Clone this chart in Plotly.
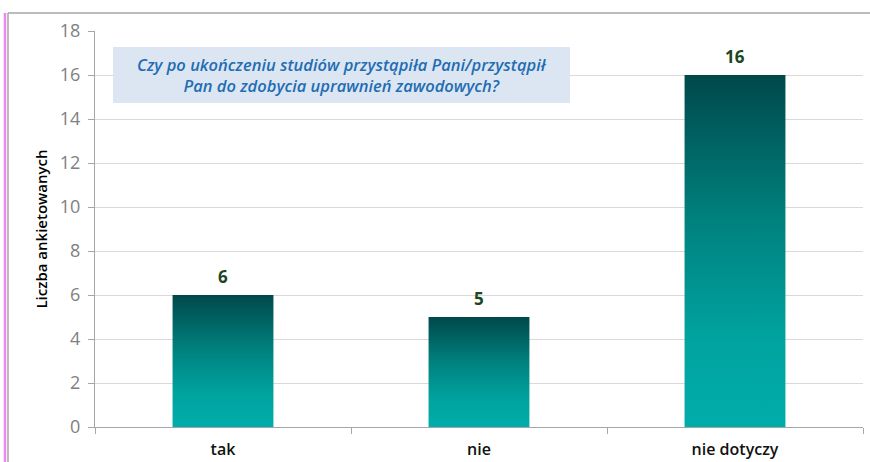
import plotly.graph_objects as go

categories = ["tak", "nie", "nie dotyczy"]
values = [6, 5, 16]
y_ticks = [0, 2, 4, 6, 8, 10, 12, 14, 16, 18]
question = "Czy po ukończeniu studiów przystąpiła Pani/przystąpił<br>Pan do zdobycia uprawnień zawodowych?"
y_title = "Liczba ankietowanych"

W, H = 870, 462
L, R, T, B = 95, 7, 31, 35
PW, PH = W - L - R, H - T - B
half = 0.197
FONT = "Open Sans, Lato, sans-serif"

fig = go.Figure()
for i, v in enumerate(values):
    fig.add_trace(go.Scatter(
        x=[i - half, i + half, i + half, i - half, i - half],
        y=[0, 0, v, v, 0],
        mode="lines", line=dict(width=0), fill="toself",
        fillgradient=dict(type="vertical", start=0, stop=v,
                          colorscale=[[0, "#00ADAA"], [0.25, "#00A3A0"], [0.6, "#00807D"], [1, "#00484A"]]),
        hoverinfo="skip", showlegend=False))

for i, v in enumerate(values):
    fig.add_annotation(x=i, y=v, text="<b>%d</b>" % v, showarrow=False,
                       yanchor="bottom", yshift=5,
                       font=dict(family=FONT, size=17, color="#1E4620"))

fig.add_shape(type="rect", xref="paper", yref="y", x0=(113 - L) / PW, x1=(570 - L) / PW,
              y0=14.73, y1=17.27, fillcolor="#DCE6F2", line=dict(width=0), layer="above")
fig.add_annotation(xref="paper", yref="y", x=(342 - L) / PW, y=16.0, xanchor="center", yanchor="middle",
                   text="<i>" + question + "</i>", showarrow=False, align="center",
                   font=dict(family=FONT, size=16.5, color="#1F6DB3", weight=600))

# frame and side line
yt = (H - B - 13) / PH
yb = (H - B - 462) / PH
fig.add_shape(type="line", xref="paper", yref="paper", x0=(8 - L) / PW, x1=(870 - L) / PW,
              y0=yt, y1=yt, line=dict(color="#A6A6A6", width=1.5))
fig.add_shape(type="line", xref="paper", yref="paper", x0=(8 - L) / PW, x1=(8 - L) / PW,
              y0=yt, y1=yb, line=dict(color="#A6A6A6", width=1.5))
fig.add_shape(type="line", xref="paper", yref="paper", x0=(5 - L) / PW, x1=(5 - L) / PW,
              y0=yt, y1=yb, line=dict(color="#EE88EE", width=2.5))

fig.update_layout(
    width=W, height=H, margin=dict(l=L, r=R, t=T, b=B),
    paper_bgcolor="white", plot_bgcolor="white",
    font=dict(family=FONT),
    xaxis=dict(range=[-0.5, 2.5], tickvals=list(range(len(categories))), ticktext=categories,
               ticks="", showgrid=False, zeroline=False, showline=True, linecolor="#A6A6A6",
               automargin=False,
               tickfont=dict(size=16, color="#111111", weight=600), ticklabelstandoff=8,
               minor=dict(ticks="outside", tick0=-0.5, dtick=1, ticklen=6, tickcolor="#A6A6A6", showgrid=False)),
    yaxis=dict(range=[0, 18], tickvals=y_ticks, ticks="outside", ticklen=6, tickcolor="#A6A6A6",
               automargin=False, ticklabelstandoff=4,
               showgrid=True, gridcolor="#D9D9D9", zeroline=False, showline=True, linecolor="#A6A6A6",
               tickfont=dict(size=18, color="#808080"),
               title=dict(text=y_title, standoff=8, font=dict(size=15, color="#000000", weight=600))),
)

fig.write_html("out.html", config={"displayModeBar": False},
               post_script="document.body.style.margin='0px';document.body.style.overflow='hidden';")
